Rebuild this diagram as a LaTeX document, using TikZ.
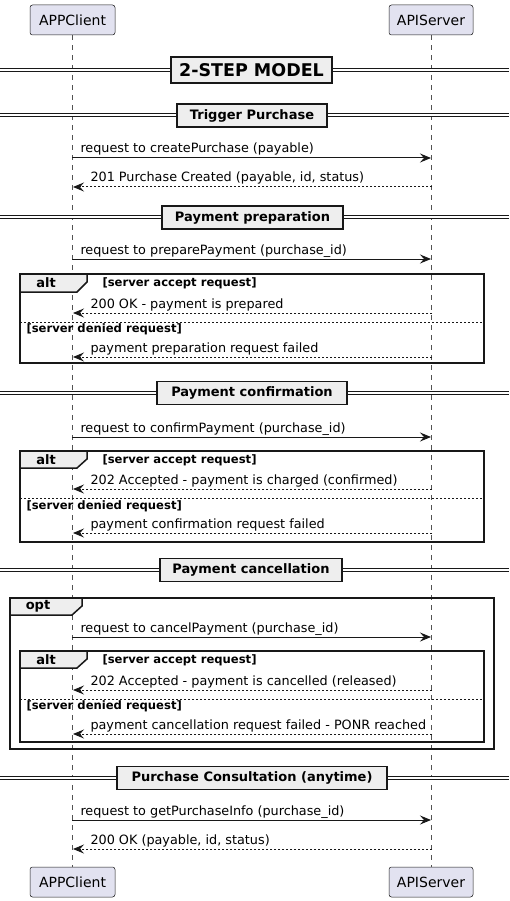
\documentclass[tikz,border=0pt]{standalone}
\usepackage{fontspec}
\setmainfont{DejaVu Sans}
\usetikzlibrary{arrows.meta}

\definecolor{actorfill}{HTML}{E2E2F0}
\definecolor{linecol}{HTML}{181818}
\definecolor{tabfill}{HTML}{EEEEEE}

\begin{document}
\begin{tikzpicture}[x=1pt, y=-1pt, line width=1pt,
    actor/.style={draw=linecol, fill=actorfill, rounded corners=2.5pt, line width=0.5pt,
        minimum height=30pt, inner sep=0pt, font=\fontsize{14}{16}\selectfont},
    lifeline/.style={draw=linecol!75, line width=0.5pt, dash pattern=on 5pt off 5pt},
    call/.style={draw=linecol, -{Stealth[length=11pt, width=9pt, inset=4pt]}},
    reply/.style={call, dash pattern=on 2pt off 2pt},
    msgtext/.style={anchor=base west, inner sep=0pt, font=\fontsize{12.8}{15}\selectfont},
    divline/.style={draw=linecol, double, double distance=2pt, line width=1pt},
    divbox/.style={draw=linecol, fill=tabfill, line width=1.5pt, minimum height=23pt,
        inner sep=0pt, font=\bfseries\fontsize{13}{15}\selectfont},
    frame/.style={draw=linecol, line width=1.5pt},
    tabtext/.style={inner sep=0pt, font=\bfseries\fontsize{13}{15}\selectfont},
    cond/.style={anchor=west, inner sep=0pt, font=\bfseries\fontsize{11.6}{13}\selectfont},
    sep/.style={draw=linecol, line width=0.8pt, dash pattern=on 2pt off 2pt}
]
    \useasboundingbox (0,0) rectangle (509,901);

    % participants
    \node [actor, minimum width=85pt] (cliTop) at (72.5,20) {APPClient};
    \node [actor, minimum width=84pt] (srvTop) at (431,20) {APIServer};
    \node [actor, minimum width=85pt] (cliBot) at (72.5,882) {APPClient};
    \node [actor, minimum width=84pt] (srvBot) at (431,882) {APIServer};
    \draw [lifeline] (cliTop.south) -- (cliBot.north);
    \draw [lifeline] (srvTop.south) -- (srvBot.north);

    % 2-step model
    \draw [divline] (0,70) -- (509,70);
    \node [divbox, minimum width=161pt, font=\bfseries\fontsize{17.5}{20}\selectfont, minimum height=26pt] (title) at (251.5,70) {2-STEP MODEL};

    % trigger purchase
    \draw [divline] (0,115.5) -- (509,115.5);
    \node [divbox, minimum width=150pt] (trigger) at (252,115.5) {Trigger Purchase};

    \coordinate (c1) at (72,158);
    \coordinate (s1) at (431,158);
    \draw [call] (c1) -- (s1);
    \node [msgtext] (t1) at (80,153) {request to createPurchase (payable)};

    \coordinate (c2) at (73,187);
    \coordinate (s2) at (432,187);
    \draw [reply] (s2) -- (c2);
    \node [msgtext] (t2) at (90,182) {201 Purchase Created (payable, id, status)};

    % payment preparation
    \draw [divline] (0,217.5) -- (509,217.5);
    \node [divbox, minimum width=181pt] (prep) at (252.5,217.5) {Payment preparation};

    \coordinate (c3) at (72,259);
    \coordinate (s3) at (431,259);
    \draw [call] (c3) -- (s3);
    \node [msgtext] (t3) at (80,254) {request to preparePayment (purchase\_id)};

    \draw [frame, fill=tabfill] (20,274) -- (87,274) -- (87,282) -- (77,292) -- (20,292) -- cycle;
    \draw [frame] (20,274) rectangle (484,363);
    \node [tabtext] (alt1) at (46,283) {alt};
    \node [cond] (ok1) at (102,283) {[server accept request]};

    \coordinate (c4) at (73,313);
    \coordinate (s4) at (432,313);
    \draw [reply] (s4) -- (c4);
    \node [msgtext] (t4) at (90,308) {200 OK - payment is prepared};

    \draw [sep] (20,322) -- (484,322);
    \node [cond] (ko1) at (26,329) {[server denied request]};

    \coordinate (c5) at (73,357);
    \coordinate (s5) at (432,357);
    \draw [reply] (s5) -- (c5);
    \node [msgtext] (t5) at (90,352) {payment preparation request failed};

    % payment confirmation
    \draw [divline] (0,393) -- (509,393);
    \node [divbox, minimum width=190pt] (conf) at (252,393) {Payment confirmation};

    \coordinate (c6) at (72,437);
    \coordinate (s6) at (431,437);
    \draw [call] (c6) -- (s6);
    \node [msgtext] (t6) at (80,432) {request to confirmPayment (purchase\_id)};

    \draw [frame, fill=tabfill] (20,451) -- (87,451) -- (87,459) -- (77,468) -- (20,468) -- cycle;
    \draw [frame] (20,451) rectangle (484,542);
    \node [tabtext] (alt2) at (46,460) {alt};
    \node [cond] (ok2) at (102,460) {[server accept request]};

    \coordinate (c7) at (73,489);
    \coordinate (s7) at (432,489);
    \draw [reply] (s7) -- (c7);
    \node [msgtext] (t7) at (90,484) {202 Accepted - payment is charged (confirmed)};

    \draw [sep] (20,498) -- (484,498);
    \node [cond] (ko2) at (26,506) {[server denied request]};

    \coordinate (c8) at (73,533);
    \coordinate (s8) at (432,533);
    \draw [reply] (s8) -- (c8);
    \node [msgtext] (t8) at (90,528) {payment confirmation request failed};

    % payment cancellation
    \draw [divline] (0,570) -- (509,570);
    \node [divbox, minimum width=182pt] (cancel) at (251,570) {Payment cancellation};

    \draw [frame, fill=tabfill] (10,598) -- (82,598) -- (82,606) -- (72,615) -- (10,615) -- cycle;
    \draw [frame] (10,598) rectangle (494,749);
    \node [tabtext] (opt) at (38,606) {opt};

    \coordinate (c9) at (72,637);
    \coordinate (s9) at (431,637);
    \draw [call] (c9) -- (s9);
    \node [msgtext] (t9) at (80,632) {request to cancelPayment (purchase\_id)};

    \draw [frame, fill=tabfill] (20,651) -- (87,651) -- (87,659) -- (77,668) -- (20,668) -- cycle;
    \draw [frame] (20,651) rectangle (484,742);
    \node [tabtext] (alt3) at (46,660) {alt};
    \node [cond] (ok3) at (102,660) {[server accept request]};

    \coordinate (c10) at (73,690);
    \coordinate (s10) at (432,690);
    \draw [reply] (s10) -- (c10);
    \node [msgtext] (t10) at (90,685) {202 Accepted - payment is cancelled (released)};

    \draw [sep] (20,699) -- (484,699);
    \node [cond] (ko3) at (26,706) {[server denied request]};

    \coordinate (c11) at (73,734);
    \coordinate (s11) at (432,734);
    \draw [reply] (s11) -- (c11);
    \node [msgtext] (t11) at (90,729) {payment cancellation request failed - PONR reached};

    % purchase consultation
    \draw [divline] (0,778) -- (509,778);
    \node [divbox, minimum width=270pt] (consult) at (252,778) {Purchase Consultation (anytime)};

    \coordinate (c12) at (72,820);
    \coordinate (s12) at (431,820);
    \draw [call] (c12) -- (s12);
    \node [msgtext] (t12) at (80,815) {request to getPurchaseInfo (purchase\_id)};

    \coordinate (c13) at (73,849);
    \coordinate (s13) at (432,849);
    \draw [reply] (s13) -- (c13);
    \node [msgtext] (t13) at (90,844) {200 OK (payable, id, status)};
\end{tikzpicture}
\end{document}
